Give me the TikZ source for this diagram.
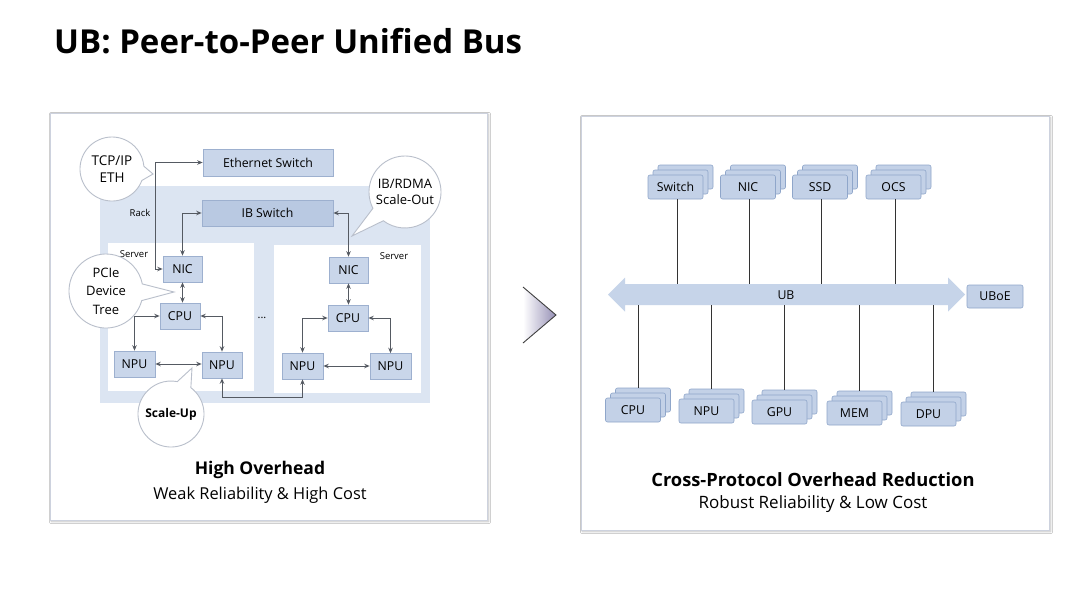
\documentclass[tikz,border=0pt]{standalone}
\usepackage{fontspec}
\setmainfont{Open Sans}
\usetikzlibrary{arrows.meta,calc,shadows.blur}
\definecolor{boxfill}{HTML}{C9D6EA}
\definecolor{boxline}{HTML}{9DB0CF}
\definecolor{ibfill}{HTML}{B9C9E2}
\definecolor{rackfill}{HTML}{DCE5F2}
\definecolor{arrowgray}{HTML}{555A62}
\definecolor{panelline}{HTML}{CDD2DE}
\definecolor{bubline}{HTML}{B9BFCB}
\definecolor{sfill}{HTML}{C3D1E7}
\definecolor{sline}{HTML}{8FA6CA}
\definecolor{busfill}{HTML}{C6D4E9}
\definecolor{chev}{HTML}{958FB5}
\tikzset{
  panel/.style={draw=panelline, line width=0.8pt, fill=white, blur shadow={shadow blur steps=6, shadow xshift=1.5pt, shadow yshift=-1.5pt, shadow opacity=25}},
  blk/.style={draw=boxline, fill=boxfill, line width=0.6pt, inner sep=0pt, font=\fontsize{12.3}{14}\selectfont},
  conn/.style={draw=arrowgray, line width=1pt, {Stealth[length=5.5pt,width=4.5pt]}-{Stealth[length=5.5pt,width=4.5pt]}},
  bubble/.style={draw=bubline, line width=0.9pt, fill=white},
  bubtext/.style={align=center, inner sep=0pt, font=\fontsize{13.5}{17.5}\selectfont},
  small/.style={inner sep=0pt, font=\fontsize{9.5}{10}\selectfont},
  sbox/.style={draw=sline, fill=sfill, line width=0.6pt, rounded corners=2pt, minimum width=55pt, minimum height=24pt, inner sep=0pt, font=\fontsize{12.3}{14}\selectfont},
  vline/.style={draw=black!80, line width=0.8pt},
  caphead/.style={inner sep=0pt, font=\bfseries\fontsize{17.5}{20}\selectfont},
  capsub/.style={inner sep=0pt, font=\fontsize{16.4}{20}\selectfont},
}
\newcommand\stk[4]{%
  \node[sbox] (#1b) at (#2+10,#3-10) {};
  \node[sbox] (#1m) at (#2+5,#3-5) {};
  \node[sbox] (#1) at (#2,#3) {#4};
}
\newcommand\bub[4]{% center, radius, angle, tip
  \path[bubble] ($(#1)+(#3+13:#2)$) arc[start angle=#3+13, end angle=#3+347, radius=#2] -- (#4) -- cycle;
}
\begin{document}
\begin{tikzpicture}[x=1pt,y=-1pt]
\useasboundingbox (0,0) rectangle (1080,595);
\fill[white] (0,0) rectangle (1080,595);

\node[anchor=base west, inner sep=0pt, font=\bfseries\fontsize{33}{38}\selectfont] (title) at (54,53) {UB: Peer-to-Peer Unified Bus};

% panels
\node[panel, minimum width=437pt, minimum height=407pt, inner sep=0pt] (lpanel) at (268.5,316.5) {};
\node[panel, minimum width=468pt, minimum height=414pt, inner sep=0pt] (rpanel) at (815,323) {};

% chevron
\shade[left color=white, right color=chev] (523,287) -- (556,315) -- (523,343) -- cycle;
\draw[draw=black!75, line width=0.9pt] (523,287) -- (556,315) -- (523,343);

% ---------- left panel ----------
\node[draw=none, fill=rackfill, minimum width=330pt, minimum height=217pt, inner sep=0pt] (rack) at (265,294.5) {};
\node[fill=white, minimum width=146pt, minimum height=148pt, inner sep=0pt] (srvL) at (181,317) {};
\node[fill=white, minimum width=147pt, minimum height=148pt, inner sep=0pt] (srvR) at (347.5,319) {};
\node[small] (racklbl) at (140,213) {Rack};
\node[small] (srvLlbl) at (134,254) {Server};
\node[small] (srvRlbl) at (394,256) {Server};

\node[blk, minimum width=130pt, minimum height=27pt] (eth) at (268,162.5) {Ethernet Switch};
\node[blk, fill=ibfill, minimum width=131pt, minimum height=26pt] (ib) at (267.5,213) {IB Switch};
\node[blk, minimum width=39pt, minimum height=26pt] (nicL) at (182.5,269) {NIC};
\node[blk, minimum width=39pt, minimum height=26pt] (nicR) at (348.5,270) {NIC};
\node[blk, minimum width=40pt, minimum height=26pt] (cpuL) at (180,316) {CPU};
\node[blk, minimum width=40pt, minimum height=26pt] (cpuR) at (348,318) {CPU};
\node[blk, minimum width=41pt, minimum height=26pt] (npu1) at (134.5,364) {NPU};
\node[blk, minimum width=40pt, minimum height=26pt] (npu2) at (222,365) {NPU};
\node[blk, minimum width=41pt, minimum height=26pt] (npu3) at (302.5,366) {NPU};
\node[blk, minimum width=41pt, minimum height=26pt] (npu4) at (390.5,366.5) {NPU};
\node[inner sep=0pt, font=\fontsize{11}{12}\selectfont] (dots) at (262,318) {...};

\draw[conn] (eth.west) -- ++(-47,0) |- (nicL.west);
\draw[conn] (ib.west) -| (nicL.north);
\draw[conn] (ib.east) -| (nicR.north);
\draw[conn] (nicL.south) -- (nicL.south |- cpuL.north);
\draw[conn] (nicR.south) -- (nicR.south |- cpuR.north);
\draw[conn] (cpuL.west) -| (npu1.north);
\draw[conn] (cpuL.east) -| (npu2.north);
\draw[conn] (cpuR.west) -| (npu3.north);
\draw[conn] (cpuR.east) -| (npu4.north);
\draw[conn] (npu1.east) -- (npu1.east -| npu2.west);
\draw[conn] (npu3.east) -- (npu3.east -| npu4.west);
\draw[conn] (npu2.south) -- ++(0,19) -| (npu3.south);

% bubbles
\coordinate (tcpc) at (112,169);
\coordinate (tcptip) at (153,174);
\bub{tcpc}{32}{8}{tcptip}
\node[bubtext] (tcp) at (tcpc) {TCP/IP\\ETH};

\coordinate (ibrc) at (405,192);
\coordinate (ibrtip) at (352,236);
\bub{ibrc}{36}{140}{ibrtip}
\node[bubtext, font=\fontsize{13}{16.5}\selectfont] (ibr) at (ibrc) {IB/RDMA\\Scale-Out};

\coordinate (pcic) at (106,291);
\coordinate (pcitip) at (174,292);
\bub{pcic}{37}{2}{pcitip}
\node[bubtext, font=\fontsize{13}{18.5}\selectfont] (pci) at (pcic) {PCIe\\Device\\Tree};

\coordinate (supc) at (171,414);
\coordinate (suptip) at (192,368);
\bub{supc}{33}{-66}{suptip}
\node[bubtext, font=\bfseries\fontsize{12}{14}\selectfont] (sup) at (supc) {Scale-Up};

\node[caphead] (lhead) at (260,470) {High Overhead};
\node[capsub] (lsub) at (260,495) {Weak Reliability \& High Cost};

% ---------- right panel ----------
\coordinate (ubtop) at (786,284);
\coordinate (ubbot) at (786,305);
\path[fill=busfill] (608,294.5) -- (625,277.5) -- (625,284) -- (948,284) -- (948,277.5) -- (965,294.5) -- (948,311.5) -- (948,305) -- (625,305) -- (625,311.5) -- cycle;
\node[inner sep=0pt, font=\fontsize{12.3}{14}\selectfont] (ub) at (786,295) {UB};
\node[sbox, minimum width=56pt, minimum height=23pt] (uboe) at (995,296.5) {UBoE};

\stk{sw}{675.5}{187}{Switch}
\stk{nic}{748}{187}{NIC}
\stk{ssd}{820}{187}{SSD}
\stk{ocs}{893.5}{187}{OCS}

\stk{cpu}{633}{410}{CPU}
\stk{npu}{706.5}{411}{NPU}
\stk{gpu}{779.5}{412}{GPU}
\stk{mem}{854.5}{413}{MEM}
\stk{dpu}{928.5}{414}{DPU}

\foreach \n in {sw,nic,ssd,ocs}{
  \draw[vline] ($(\n.south)+(1.5,0)$) -- ($(\n.south |- ubtop)+(1.5,0)$);
}
\foreach \n in {cpu,npu,gpu,mem,dpu}{
  \draw[vline] (\n m.north |- ubbot) -- (\n m.north |- \n b.north);
}

\node[caphead, font=\bfseries\fontsize{18.3}{20}\selectfont] (rhead) at (813,480) {Cross-Protocol Overhead Reduction};
\node[capsub, font=\fontsize{17}{20}\selectfont] (rsub) at (813,504) {Robust Reliability \& Low Cost};
\end{tikzpicture}
\end{document}
